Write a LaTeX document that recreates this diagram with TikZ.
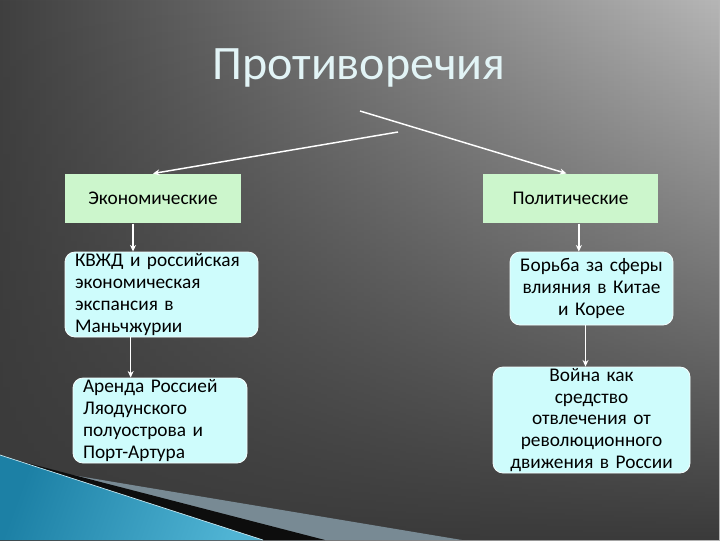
\documentclass[tikz,border=0pt]{standalone}
\usepackage{fontspec}
\setmainfont{Carlito}[WordSpace=0.8]
\usetikzlibrary{arrows.meta,fadings}

\definecolor{bgdark}{RGB}{58,58,58}
\definecolor{bgleft}{RGB}{64,64,64}
\definecolor{bglight}{RGB}{182,182,182}
\definecolor{boxgreen}{RGB}{204,246,204}
\definecolor{boxcyan}{RGB}{206,252,252}
\definecolor{titlecol}{RGB}{226,244,246}
\definecolor{swblue}{RGB}{28,128,165}
\definecolor{swbluel}{RGB}{80,180,212}
\definecolor{swgray}{RGB}{120,138,148}

\tikzfading[name=darkbottom, top color=transparent!100, bottom color=transparent!0]

\tikzset{every picture/.style={line width=0.75pt}}
\tikzset{
  boxtext/.style={font=\fontsize{14.5}{16.3}\selectfont, text=black},
  headbox/.style={boxtext, fill=boxgreen, minimum height=36.75pt, inner sep=0pt},
  itembox/.style={boxtext, fill=boxcyan, draw=white!80!boxcyan, line width=0.6pt,
    rounded corners=7.5pt, inner ysep=0pt},
  arr/.style={draw=white, line width=1.1pt, -{Stealth[length=5pt,width=4.5pt]}}
}

\begin{document}
\begin{tikzpicture}[x=0.75pt,y=0.75pt,yscale=-1,xscale=1]
		%Background
		\shade[left color=bgleft, right color=bglight] (0,0) rectangle (720,540);
		\fill[bgdark, path fading=darkbottom] (0,0) rectangle (720,540);
		\useasboundingbox (0,0) rectangle (720,540);
		
		%Shape: swoosh bottom left
		\fill[swgray] (0,458) -- (66,474) -- (462,540) -- (0,540) -- cycle;
		\fill[black!95] (0,456) -- (325,540) -- (0,540) -- cycle;
		\shade[left color=swblue, right color=swbluel, shading angle=70] (0,455) -- (263,540) -- (0,540) -- cycle;
		\draw[white!70!swbluel, line width=0.5pt] (0,455) -- (263,540);
		
		%Title
		\node (title) [anchor=base, inner sep=0pt, text=titlecol, font=\fontsize{36}{40}\selectfont] at (359,79) {Противоречия};
		
		%Boxes
		\node (econ) [headbox, minimum width=132pt] at (153,198.5) {Экономические};
		\node (polit) [headbox, minimum width=131.25pt] at (570.5,198.5) {Политические};
		
		\node (kvzhd) [itembox, align=left, inner xsep=7.5pt, text width=129.75pt, minimum height=63.75pt] at (161.5,294.5)
		  {КВЖД и российская\\экономическая\\экспансия в\\Маньчжурии};
		\node (arenda) [itembox, align=left, inner xsep=7.5pt, text width=115.5pt, minimum height=63.75pt] at (160,420.5)
		  {Аренда Россией\\Ляодунского\\полуострова и\\Порт-Артура};
		\node (borba) [itembox, align=center, inner xsep=4pt, text width=114.25pt, minimum height=54.75pt] at (591.5,288.5)
		  {Борьба за сферы\\влияния в Китае\\и Корее};
		\node (voina) [itembox, align=center, inner xsep=4pt, text width=139.75pt, minimum height=79.5pt] at (591.5,420)
		  {Война как\\средство\\отвлечения от\\революционного\\движения в России};
		
		%Connectors
		\coordinate (fromR) at (360,111);
		\coordinate (fromL) at (398,132);
		\draw[arr] (fromR) -- ([xshift=-3]polit.north);
		\draw[arr] (fromL) -- (econ.north);
		\draw[arr] ([xshift=-15]econ.south) -- ([xshift=-15]econ.south |- kvzhd.north);
		\draw[arr] ([xshift=-22]arenda.north |- kvzhd.south) -- ([xshift=-22]arenda.north);
		\draw[arr] ([xshift=-9.5]borba.north |- polit.south) -- ([xshift=-9.5]borba.north);
		\draw[arr] ([xshift=-4.5]borba.south) -- ([xshift=-4.5]borba.south |- voina.north);
		
\end{tikzpicture}
\end{document}
